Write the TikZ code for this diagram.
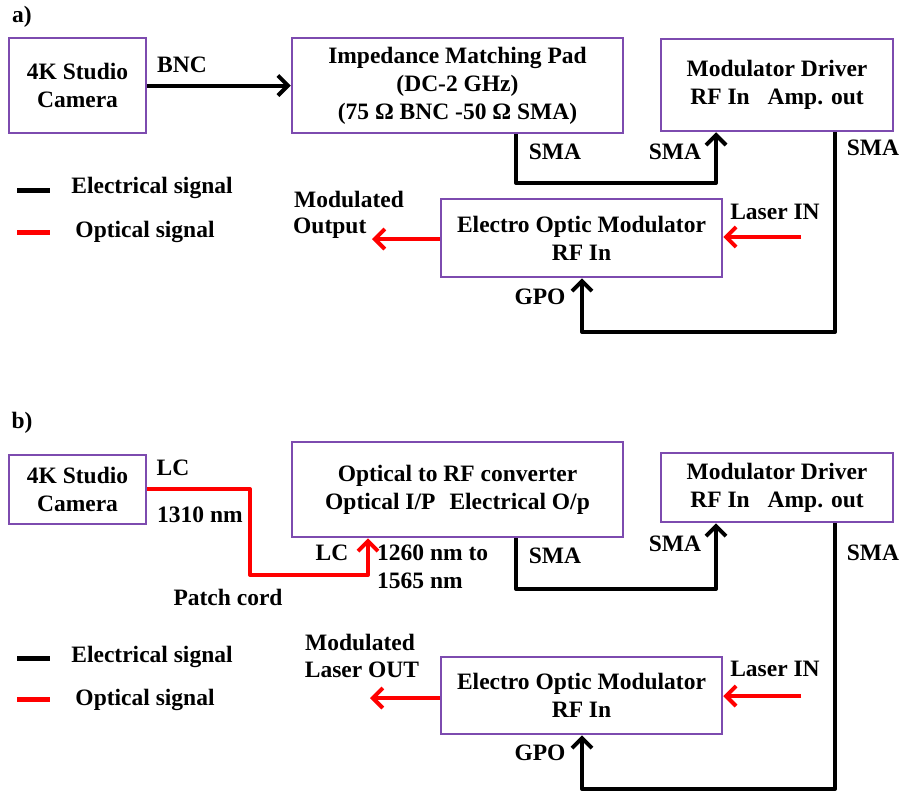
\documentclass[tikz,border=0pt]{standalone}
\usepackage{fontspec}
\setmainfont{Liberation Serif}
\usetikzlibrary{arrows.meta}
\definecolor{boxpurple}{RGB}{125,75,175}
\definecolor{optred}{RGB}{255,0,0}
\tikzset{
  box/.style={draw=boxpurple, line width=2.5pt, align=center, inner sep=0pt},
  lbl/.style={inner sep=0pt, align=center},
  elec/.style={draw=black, line width=4pt, line join=round},
  opt/.style={draw=optred, line width=4pt, line join=round},
  tipped/.style={-{Straight Barb[length=10pt,width=20pt]}},
  legline/.style={line width=5pt},
}
\begin{document}
\begin{tikzpicture}[x=1pt,y=-1pt,
  every node/.append style={font=\fontsize{23.5}{28}\selectfont\bfseries}]
\fill[white] (0,0) rectangle (903,793);
\useasboundingbox (0,0) rectangle (903,793);

% ---------------- panel a ----------------
\node[lbl] (labA) at (22,17) {a)};
\node[box, minimum width=137pt, minimum height=95pt] (camA) at (77.5,85.5) {4K Studio\\Camera};
\node[box, minimum width=331pt, minimum height=95pt] (impA) at (457.5,85.5) {Impedance Matching Pad\\(DC-2 GHz)\\(75 Ω BNC -50 Ω SMA)};
\node[box, minimum width=232pt, minimum height=92pt] (mdA) at (777,85) {Modulator Driver\\RF In\hspace{18pt}Amp. out};
\node[box, minimum width=281pt, minimum height=78pt] (eomA) at (581.5,238) {Electro Optic Modulator\\RF In};

\node[lbl] (bncA) at (182,65) {BNC};
\draw[elec, tipped] (camA.east) -- (impA.west);

\coordinate (a1) at (516,183);
\coordinate (a2) at (716,183);
\draw[elec, tipped] (impA.south -| a1) -- (a1) -- (a2) -- (mdA.south -| a2);
\node[lbl] (smaA1) at (555,152) {SMA};
\node[lbl] (smaA2) at (675,152) {SMA};

\coordinate (a3) at (835,332);
\coordinate (a4) at (582,332);
\draw[elec, tipped] (mdA.south -| a3) -- (a3) -- (a4) -- (eomA.south -| a4);
\node[lbl] (smaA3) at (873,148) {SMA};
\node[lbl] (gpoA) at (540,297) {GPO};

\coordinate (a5) at (801,237);
\draw[opt, tipped] (a5) -- (eomA.east |- a5);
\node[lbl] (laserA) at (775,212) {Laser IN};

\coordinate (a6) at (372,239);
\draw[opt, tipped] (eomA.west |- a6) -- (a6);
\node[lbl] (modA1) at (349,199) {Modulated};
\node[lbl, anchor=west] (modA2) at (293,228) {Output};

\coordinate (la1) at (17,190);
\coordinate (la2) at (50,190);
\draw[legline, black] (la1) -- (la2);
\node[lbl] (legA1) at (152,188) {Electrical signal};
\coordinate (la3) at (17,232);
\coordinate (la4) at (50,232);
\draw[legline, optred] (la3) -- (la4);
\node[lbl] (legA2) at (145,232) {Optical signal};

% ---------------- panel b ----------------
\node[lbl] (labB) at (22,423) {b)};
\node[box, minimum width=137pt, minimum height=69pt] (camB) at (77.5,489.5) {4K Studio\\Camera};
\node[box, minimum width=331pt, minimum height=95pt] (convB) at (457.5,489.5) {Optical to RF converter\\Optical I/P\hspace{14pt}Electrical O/p};
\node[box, minimum width=232pt, minimum height=69pt] (mdB) at (777,487.5) {Modulator Driver\\RF In\hspace{18pt}Amp. out};
\node[box, minimum width=281pt, minimum height=77pt] (eomB) at (581.5,695.5) {Electro Optic Modulator\\RF In};

\node[lbl] (lcB1) at (173,468) {LC};
\node[lbl] (nmB1) at (200,515) {1310 nm};
\coordinate (b1) at (250,489);
\coordinate (b2) at (250,575);
\coordinate (b3) at (368,575);
\draw[opt, tipped] (camB.east |- b1) -- (b1) -- (b2) -- (b3) -- (convB.south -| b3);
\node[lbl] (patchB) at (228,597) {Patch cord};
\node[lbl] (lcB2) at (332,553) {LC};
\node[lbl, align=left, anchor=west] (nmB2) at (377,566.5) {1260 nm to\\1565 nm};

\coordinate (b4) at (516,589);
\coordinate (b5) at (716,589);
\draw[elec, tipped] (convB.south -| b4) -- (b4) -- (b5) -- (mdB.south -| b5);
\node[lbl] (smaB1) at (555,556) {SMA};
\node[lbl] (smaB2) at (675,544) {SMA};

\coordinate (b6) at (835,789);
\coordinate (b7) at (582,789);
\draw[elec, tipped] (mdB.south -| b6) -- (b6) -- (b7) -- (eomB.south -| b7);
\node[lbl] (smaB3) at (873,553) {SMA};
\node[lbl] (gpoB) at (540,753) {GPO};

\coordinate (b8) at (801,696);
\draw[opt, tipped] (b8) -- (eomB.east |- b8);
\node[lbl] (laserB) at (775,669) {Laser IN};

\coordinate (b9) at (370,698);
\draw[opt, tipped] (eomB.west |- b9) -- (b9);
\node[lbl] (modB1) at (360,642) {Modulated};
\node[lbl] (modB2) at (362,670) {Laser OUT};

\coordinate (lb1) at (17,658);
\coordinate (lb2) at (50,658);
\draw[legline, black] (lb1) -- (lb2);
\node[lbl] (legB1) at (152,657) {Electrical signal};
\coordinate (lb3) at (17,699);
\coordinate (lb4) at (50,699);
\draw[legline, optred] (lb3) -- (lb4);
\node[lbl] (legB2) at (145,700) {Optical signal};
\end{tikzpicture}
\end{document}
